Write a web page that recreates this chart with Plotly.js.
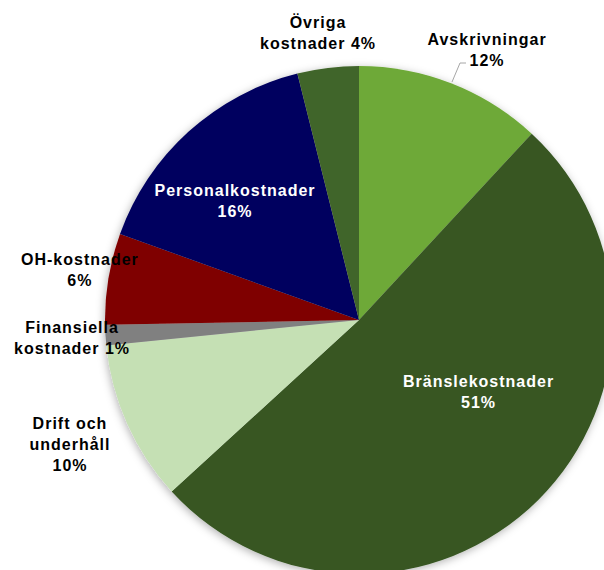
<!DOCTYPE html>
<html>
<head>
<meta charset="utf-8">
<script src="https://cdn.plot.ly/plotly-3.0.1.min.js"></script>
<style>
html,body{margin:0;padding:0;overflow:hidden;background:#fff;width:604px;height:570px;}
#chart{width:718px;height:640px;}
</style>
</head>
<body>
<div id="chart"></div>
<script>
// Data (clockwise from 12 o'clock)
const categories = ["Avskrivningar","Bränslekostnader","Drift och underhåll","Finansiella kostnader","OH-kostnader","Personalkostnader","Övriga kostnader"];
const values = [11.9, 51.3, 10.2, 1.3, 5.8, 15.6, 3.9];
const percentLabels = ["12%","51%","10%","1%","6%","16%","4%"];
const labelLines = [
  ["Avskrivningar","12%"],
  ["Bränslekostnader","51%"],
  ["Drift och","underhåll","10%"],
  ["Finansiella","kostnader 1%"],
  ["OH-kostnader","6%"],
  ["Personalkostnader","16%"],
  ["Övriga","kostnader 4%"]
];
const colors = ["#6ea938","#375623","#c5e0b4","#808080","#7f0000","#00005e","#41652a"];
const labelColors = ["#000","#fff","#000","#000","#000","#fff","#000"];
// label block centres in pixels (layout)
const labelPos = [[487,50],[478,392],[70,444],[72,338],[80,270],[235,201],[318,32]];

const W = 718, H = 640;
const cx = 359, cy = 320, R = 254;
const px = x => x / W;
const py = y => 1 - y / H;

const trace = {
  type: "pie",
  labels: categories,
  values: values,
  sort: false,
  direction: "clockwise",
  rotation: 0,
  textinfo: "none",
  hoverinfo: "label+percent",
  marker: {colors: colors, line: {width: 0}},
  domain: {x: [px(cx - R), px(cx + R)], y: [py(cy + R), py(cy - R)]},
  showlegend: false
};

const annotations = labelLines.map((lines, i) => ({
  xref: "paper", yref: "paper",
  x: px(labelPos[i][0]), y: py(labelPos[i][1]),
  xanchor: "center", yanchor: "middle", align: "center",
  text: "<b>" + lines.join("<br>") + "</b>",
  showarrow: false,
  font: {family: "Liberation Sans, Arial, sans-serif", size: 16, color: labelColors[i]}
}));

const layout = {
  width: W, height: H,
  margin: {l: 0, r: 0, t: 0, b: 0},
  paper_bgcolor: "#fff",
  annotations: annotations,
  shapes: [{
    type: "path", xref: "paper", yref: "paper",
    path: `M ${px(452)} ${py(82)} L ${px(460)} ${py(63)} L ${px(466)} ${py(63)}`,
    line: {color: "#a6a6a6", width: 1}
  }]
};

Plotly.newPlot("chart", [trace], layout, {displayModeBar: false, staticPlot: true}).then(() => {
  const svg = document.querySelector("#chart svg.main-svg");
  const ns = "http://www.w3.org/2000/svg";
  let defs = svg.querySelector("defs");
  if (!defs) { defs = document.createElementNS(ns, "defs"); svg.insertBefore(defs, svg.firstChild); }
  const f = document.createElementNS(ns, "filter");
  f.setAttribute("id", "pieShadow");
  f.setAttribute("x", "-10%"); f.setAttribute("y", "-10%");
  f.setAttribute("width", "120%"); f.setAttribute("height", "120%");
  const ds = document.createElementNS(ns, "feDropShadow");
  ds.setAttribute("dx", "-1"); ds.setAttribute("dy", "2");
  ds.setAttribute("stdDeviation", "4");
  ds.setAttribute("flood-color", "#000");
  ds.setAttribute("flood-opacity", "0.3");
  f.appendChild(ds);
  defs.appendChild(f);
  const pl = svg.querySelector(".pielayer");
  if (pl) pl.setAttribute("filter", "url(#pieShadow)");
  document.querySelectorAll("#chart .annotation-text").forEach(t => { t.style.letterSpacing = "1px"; });
});
</script>
</body>
</html>
